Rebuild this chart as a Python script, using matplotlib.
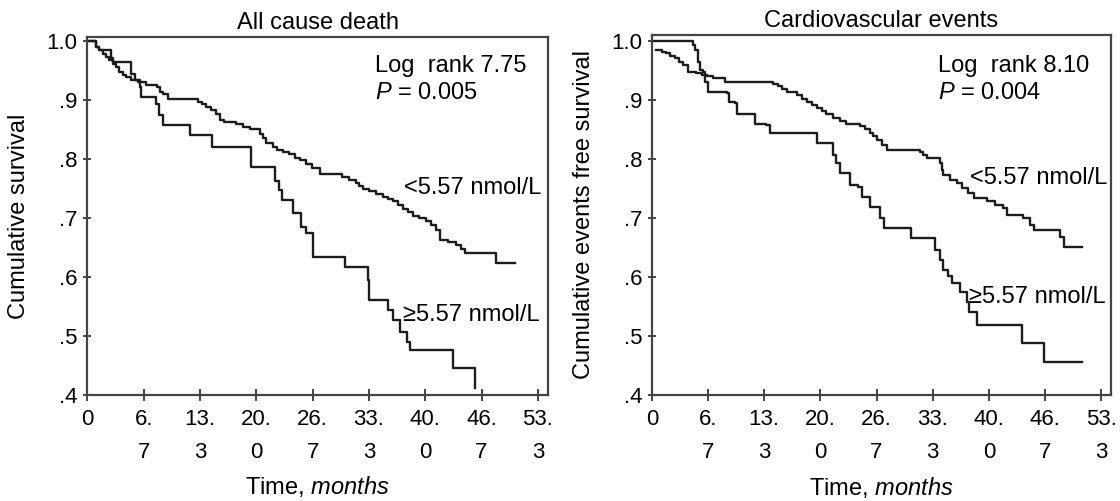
"""Kaplan-Meier curves: all cause death and cardiovascular events by cut-off 5.57 nmol/L."""

import matplotlib
matplotlib.use('Agg')
import matplotlib.pyplot as plt

plt.rcParams['font.family'] = ['Liberation Sans', 'DejaVu Sans']
plt.rcParams['mathtext.fontset'] = 'custom'
plt.rcParams['mathtext.rm'] = 'Liberation Sans'
plt.rcParams['mathtext.it'] = 'Liberation Sans:italic'

# month ticks and their (two-line) labels
tick_months = [0, 20 / 3, 40 / 3, 20, 80 / 3, 100 / 3, 40, 140 / 3, 160 / 3]
tick_labels = ['0', '6.\n7', '13.\n3', '20.\n0', '26.\n7', '33.\n3', '40.\n0', '46.\n7', '53.\n3']
y_ticks = [0.4, 0.5, 0.6, 0.7, 0.8, 0.9, 1.0]
y_tick_labels = ['.4', '.5', '.6', '.7', '.8', '.9', '1.0']

# All cause death, <5.57 nmol/L
death_low_t = [0, 1.0, 1.4, 1.8, 2.2, 2.6, 3.0, 3.4, 3.8, 4.2, 4.6, 5.2, 6.0, 7.0,
               8.2, 8.6, 9.0, 9.6, 13.1, 13.6, 14.1, 14.6, 15.2, 15.7, 16.2, 17.6,
               18.4, 19.2, 20.4, 20.8, 21.2, 22.0, 22.4, 23.2, 23.9, 24.6, 25.2,
               25.9, 26.6, 27.5, 30.2, 31.0, 31.8, 32.2, 32.6, 33.4, 34.2, 35.0,
               35.6, 36.2, 36.8, 37.4, 38.0, 38.6, 39.3, 40.1, 40.7, 41.3, 41.7,
               42.7, 43.7, 44.2, 44.7, 48.4, 50.6]
death_low_s = [1.0, .990, .985, .979, .973, .968, .962, .956, .948, .943, .939, .934,
               .931, .925, .922, .914, .910, .902, .896, .893, .889, .884, .877, .866,
               .863, .859, .855, .851, .843, .835, .827, .820, .815, .812, .808, .802,
               .798, .792, .784, .775, .769, .765, .760, .754, .749, .745, .740, .735,
               .732, .728, .722, .716, .710, .704, .700, .695, .688, .680, .663, .660,
               .655, .648, .640, .623, .623]

# All cause death, >=5.57 nmol/L
death_high_t = [0, 1.0, 1.4, 2.8, 3.0, 5.2, 5.6, 6.2, 6.4, 8.1, 8.5, 8.9, 12.1, 14.7,
                19.4, 22.2, 22.7, 23.1, 24.3, 25.3, 25.9, 26.7, 30.5, 33.2, 33.4,
                35.6, 36.2, 37.0, 37.9, 38.2, 43.3, 45.9]
death_high_s = [1.0, .990, .985, .971, .965, .945, .934, .923, .906, .894, .875, .858,
                .841, .821, .787, .762, .747, .731, .708, .685, .674, .634, .617, .595,
                .561, .544, .527, .507, .490, .476, .445, .411]

# Cardiovascular events, <5.57 nmol/L
cv_low_t = [0.5, 1.2, 1.7, 2.2, 2.7, 3.2, 3.7, 4.3, 5.3, 6.0, 6.5, 7.3, 8.7, 14.4,
            15.0, 15.5, 16.0, 17.2, 17.8, 18.4, 19.0, 19.6, 20.2, 20.7, 21.5, 22.3,
            23.1, 24.7, 25.3, 25.9, 26.3, 26.7, 27.3, 27.9, 31.8, 32.2, 32.6, 34.2,
            34.4, 34.6, 35.4, 36.2, 36.8, 37.5, 38.2, 39.8, 40.7, 41.7, 42.1, 44.1,
            44.9, 45.3, 48.5, 48.9, 51.0]
cv_low_s = [.985, .982, .979, .975, .971, .965, .959, .948, .945, .942, .940, .937,
            .931, .927, .923, .918, .914, .908, .902, .897, .892, .886, .881, .877,
            .869, .865, .860, .855, .850, .844, .838, .832, .824, .815, .812, .806,
            .801, .793, .782, .772, .765, .759, .750, .742, .733, .728, .722, .716,
            .705, .700, .688, .680, .668, .651, .651]

# Cardiovascular events, >=5.57 nmol/L
cv_high_t = [0, 4.9, 5.1, 5.5, 5.7, 6.1, 6.3, 6.7, 8.9, 9.1, 9.9, 10.1, 12.2, 13.6,
             14.0, 19.6, 21.5, 21.9, 22.3, 23.5, 24.5, 24.9, 25.9, 27.1, 27.5, 30.8,
             33.6, 34.2, 34.6, 35.2, 35.6, 36.6, 37.4, 37.6, 38.6, 43.9, 46.5, 51.0]
cv_high_s = [1.0, .993, .985, .965, .951, .948, .931, .914, .911, .897, .894, .877,
             .860, .858, .844, .827, .807, .793, .776, .756, .753, .736, .719, .699,
             .683, .666, .646, .629, .612, .601, .589, .575, .558, .541, .519, .488,
             .456, .456]

FS = 17       # titles, labels, annotations
TFS = 16      # tick labels
LINE = '#1c1c1c'
EDGE = '#444444'


def draw_panel(ax, low, high, title, ylabel, logrank, pval, low_pos, high_pos, top):
    ax.step(low[0], low[1], where='post', color=LINE, lw=1.7)
    ax.step(high[0], high[1], where='post', color=LINE, lw=1.7)
    ax.set_xlim(0, 54.5)
    ax.set_ylim(0.4, top)
    ax.set_xticks(tick_months)
    ax.set_xticklabels(tick_labels, fontsize=TFS)
    for lbl in ax.get_xticklabels():
        lbl.set_linespacing(1.8)
    ax.set_yticks(y_ticks)
    ax.set_yticklabels(y_tick_labels, fontsize=TFS)
    ax.tick_params(axis='x', direction='inout', length=8, width=1.4, color=EDGE, pad=6)
    ax.tick_params(axis='y', direction='inout', length=6, width=1.4, color=EDGE, pad=4)
    for sp in ax.spines.values():
        sp.set_color(EDGE)
        sp.set_linewidth(1.6)
    ax.set_title(title, fontsize=FS, pad=6)
    ax.set_ylabel(ylabel, fontsize=FS)
    ax.yaxis.set_label_coords(-0.124, 0.5)
    ax.set_xlabel('Time, $\\mathit{months}$', fontsize=FS)
    ax.xaxis.set_label_coords(0.5, -0.222)
    ax.text(low_pos[0], low_pos[1], '<5.57 nmol/L', fontsize=FS, va='center')
    ax.text(high_pos[0], high_pos[1], '\u22655.57 nmol/L', fontsize=FS, va='center')
    ax.text(34.0, 0.958, logrank, fontsize=FS, va='center')
    ax.text(34.0, 0.912, '$\\mathit{P}$ = ' + pval, fontsize=FS, va='center')


fig = plt.figure(figsize=(11.2, 5.01), dpi=100)
ax1 = fig.add_axes([0.078, 0.212, 0.411, 0.714])
ax2 = fig.add_axes([0.582, 0.212, 0.410, 0.718])

draw_panel(ax1, (death_low_t, death_low_s), (death_high_t, death_high_s),
           'All cause death', 'Cumulative survival', 'Log  rank 7.75', '0.005',
           (37.5, 0.751), (37.4, 0.536), 1.007)
draw_panel(ax2, (cv_low_t, cv_low_s), (cv_high_t, cv_high_s),
           'Cardiovascular events', 'Cumulative events free survival',
           'Log  rank 8.10', '0.004', (37.8, 0.768), (37.6, 0.566), 1.010)

plt.savefig('out.png', dpi=100)
plt.close()
